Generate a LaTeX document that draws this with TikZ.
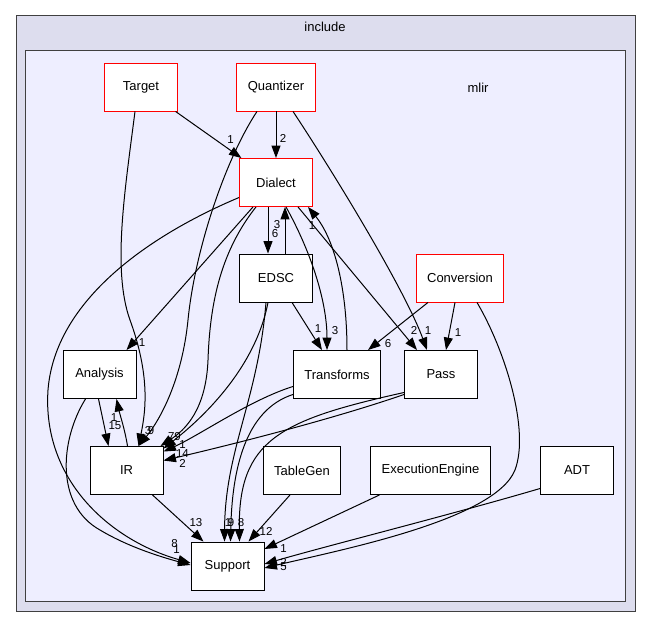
\documentclass[tikz,border=0pt]{standalone}
\usepackage{fontspec}
\setmainfont{Liberation Sans}
\usetikzlibrary{arrows.meta,positioning}
\definecolor{outerfill}{HTML}{DDDDEE}
\definecolor{innerfill}{HTML}{EEEEFF}
\definecolor{frame}{HTML}{404040}

\begin{document}
\begin{tikzpicture}[
        x=1pt, y=-1pt,
        node distance=95.5pt,
        dir/.style={rectangle, draw=black, fill=white, line width=0.9pt, minimum width=73pt, minimum height=48pt, inner xsep=11pt, font=\fontsize{13}{15}\selectfont},
        dirred/.style={dir, draw=red},
        dep/.style={-{Triangle[length=12.5pt,width=9pt]}, line width=1pt},
        lbl/.style={font=\fontsize{11.5}{13}\selectfont, inner sep=0pt},
        cluster/.style={draw=frame, line width=1pt}
    ]
        \useasboundingbox (0,0) rectangle (651,628);

        % Clusters
        \draw[cluster, fill=outerfill] (16,16) rectangle (635,611);
        \node[font=\fontsize{13}{15}\selectfont] (incl) at (325,27) {include};
        \draw[cluster, fill=innerfill] (25,51) rectangle (625,601);
        \node[font=\fontsize{13}{15}\selectfont] (mlirlbl) at (478,88) {mlir};

        % Directories
        \node[dirred] (target) at (141,87) {Target};
        \node[dirred] (quantizer) at (276,87) {Quantizer};
        \node[dirred, below of=quantizer] (dialect) {Dialect};
        \node[dir, below of=dialect] (edsc) {EDSC};
        \node[dirred] (conversion) at (460,278) {Conversion};
        \node[dir] (analysis) at (99.5,374.5) {Analysis};
        \node[dir] (transforms) at (337,374.5) {Transforms};
        \node[dir] (pass) at (441,374.5) {Pass};
        \node[dir] (ir) at (126.5,470.5) {IR};
        \node[dir] (tablegen) at (302,470.5) {TableGen};
        \node[dir] (execengine) at (430.5,470.5) {ExecutionEngine};
        \node[dir] (adt) at (577,470.5) {ADT};
        \node[dir] (support) at (227.5,566) {Support};

        % From Target and Quantizer
        \draw[dep] (target) -- (dialect) node[lbl, at end, xshift=-11pt, yshift=19pt] {1};
        \draw[dep] ([xshift=-6pt]target.south) .. controls (125,190) and (112,270) .. (130,320)
            .. controls (150,375) and (146,410) .. ([xshift=12pt]ir.north) node[lbl, at end, xshift=9.5pt, yshift=15.5pt] {3};
        \draw[dep] (quantizer) -- (dialect) node[lbl, at end, xshift=7pt, yshift=20pt] {2};
        \draw[dep] ([xshift=-19pt]quantizer.south) .. controls (225,160) and (195,250) .. (188,320)
            .. controls (182,380) and (160,420) .. ([xshift=12pt]ir.north) node[lbl, at end, xshift=12.5pt, yshift=15.5pt] {9};
        \draw[dep] ([xshift=17pt]quantizer.south) .. controls (335,175) and (405,290) .. ([xshift=-14pt]pass.north)
            node[lbl, at end, xshift=1pt, yshift=19.5pt] {1};

        % From Dialect
        \draw[dep] ([xshift=-8pt]dialect.south) -- ([xshift=-8pt]edsc.north) node[lbl, at end, xshift=7pt, yshift=20pt] {6};
        \draw[dep] ([xshift=-23pt]dialect.south) -- ([xshift=27pt]analysis.north) node[lbl, at end, xshift=15.5pt, yshift=7.5pt] {1};
        \draw[dep] ([yshift=-15pt]dialect.west) .. controls (150,235) and (55,300) .. (48,390)
            .. controls (42,480) and (110,540) .. ([yshift=3pt]support.west) node[lbl, at end, xshift=-16pt, yshift=19pt] {8};
        \draw[dep] ([xshift=-20pt]dialect.south) .. controls (222,250) and (210,300) .. (208,360)
            .. controls (206,410) and (185,430) .. ([xshift=-3pt]ir.north east) node[lbl, at end, xshift=14pt, yshift=9.5pt] {79};
        \draw[dep] ([xshift=10pt]dialect.south) .. controls (310,250) and (327,300) .. ([xshift=-10pt]transforms.north)
            node[lbl, at end, xshift=8pt, yshift=19.5pt] {3};
        \draw[dep] ([xshift=22pt]dialect.south) -- ([xshift=-24pt]pass.north) node[lbl, at end, xshift=-3pt, yshift=19.5pt] {2};

        % From EDSC
        \draw[dep] ([xshift=9pt]edsc.north) -- ([xshift=9pt]dialect.south) node[lbl, at end, xshift=-8pt, yshift=-17.5pt] {3};
        \draw[dep] ([xshift=-8pt]edsc.south) .. controls (255,370) and (200,420) .. ([yshift=-2.5pt]ir.north east)
            node[lbl, at end, xshift=19pt, yshift=4pt] {1};
        \draw[dep] ([xshift=16pt]edsc.south) -- ([xshift=-15pt]transforms.north) node[lbl, at end, xshift=-4pt, yshift=21.5pt] {1};
        \draw[dep] ([xshift=-10pt]edsc.south) .. controls (258,400) and (225,450) .. ([xshift=-3pt]support.north)
            node[lbl, at end, xshift=3.5pt, yshift=19pt] {1};

        % From Conversion
        \draw[dep] ([xshift=-32pt]conversion.south) -- ([xshift=31pt]transforms.north) node[lbl, at end, xshift=20pt, yshift=6.5pt] {6};
        \draw[dep] ([xshift=-5pt]conversion.south) -- ([xshift=5pt]pass.north) node[lbl, at end, xshift=12pt, yshift=17.5pt] {1};
        \draw[dep] ([xshift=17pt]conversion.south) .. controls (505,350) and (530,430) .. (515,470)
            .. controls (495,520) and (340,550) .. ([yshift=-2pt]support.east) node[lbl, at end, xshift=19pt, yshift=1pt] {5};

        % From Transforms and Pass
        \draw[dep] ([xshift=10pt]transforms.north) .. controls (347,290) and (335,240) .. ([xshift=32pt]dialect.south)
            node[lbl, at end, xshift=4pt, yshift=-18.5pt] {1};
        \draw[dep] ([yshift=-12pt]transforms.west) .. controls (250,400) and (200,435) .. ([yshift=-5.5pt]ir.north east)
            node[lbl, at end, xshift=19pt, yshift=-2pt] {14};
        \draw[dep] ([yshift=-20pt]transforms.west) .. controls (245,410) and (232,470) .. ([xshift=3pt]support.north)
            node[lbl, at end, xshift=0.5pt, yshift=19pt] {9};
        \draw[dep] ([yshift=-20pt]pass.west) .. controls (330,420) and (230,445) .. ([yshift=-14.5pt]ir.north east)
            node[lbl, at end, xshift=19pt, yshift=-3pt] {2};
        \draw[dep] ([yshift=-18pt]pass.west) .. controls (280,420) and (238,440) .. ([xshift=12pt]support.north)
            node[lbl, at end, xshift=1.5pt, yshift=19pt] {8};

        % Analysis and IR
        \draw[dep] ([xshift=-1pt]analysis.south) -- ([xshift=-18pt]ir.north) node[lbl, at end, xshift=6.5pt, yshift=20.5pt] {15};
        \draw[dep] ([xshift=1pt]ir.north) .. controls (125,430) and (120,415) .. ([xshift=17pt]analysis.south)
            node[lbl, at end, xshift=-2.5pt, yshift=-18.5pt] {1};
        \draw[dep] ([xshift=-14pt]analysis.south) .. controls (60,440) and (55,505) .. (100,530)
            .. controls (130,548) and (165,558) .. ([yshift=1pt]support.west) node[lbl, at end, xshift=-14pt, yshift=15pt] {1};
        \draw[dep] ([xshift=26pt]ir.south) -- ([xshift=-24pt]support.north) node[lbl, at end, xshift=-7.5pt, yshift=19pt] {13};

        % Bottom row
        \draw[dep] ([xshift=-12pt]tablegen.south) -- ([xshift=21pt]support.north) node[lbl, at end, xshift=17.5pt, yshift=10pt] {12};
        \draw[dep] ([xshift=-51pt]execengine.south) -- ([yshift=17pt]support.east) node[lbl, at end, xshift=19pt] {1};
        \draw[dep] ([yshift=-18pt]adt.west) .. controls (450,515) and (330,545) .. ([yshift=2pt]support.east)
            node[lbl, at end, xshift=19pt, yshift=2pt] {2};
    \end{tikzpicture}
\end{document}
